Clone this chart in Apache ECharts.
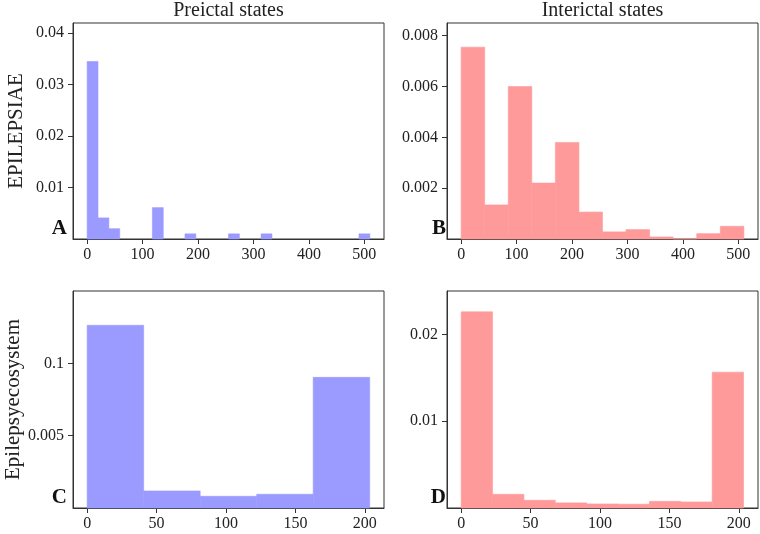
<!DOCTYPE html>
<html>
<head>
<meta charset="utf-8">
<script src="https://cdn.jsdelivr.net/npm/echarts@6/dist/echarts.min.js"></script>
<style>
html,body{margin:0;padding:0;background:#fff;}
#c{width:760px;height:534px;}
</style>
</head>
<body>
<div id="c"></div>
<script>
// ---- data ----
const panelTitles = ['Preictal states', 'Interictal states'];
const rowNames = ['EPILEPSIAE', 'Epilepsyecosystem'];
const panelLetters = ['A', 'B', 'C', 'D'];

// Panel A (EPILEPSIAE, preictal): bin lower/upper edges and density
const aLo = [0, 19.6, 39.2, 117.7, 176.5, 255.0, 313.8, 490.4];
const aHi = [19.6, 39.2, 58.8, 137.3, 196.1, 274.6, 333.4, 510.0];
const aVal = [0.0345, 0.0041, 0.0020, 0.0061, 0.0010, 0.0010, 0.0010, 0.0010];

// Panel B (EPILEPSIAE, interictal)
const bLo = [0, 42.5, 85, 127.5, 170, 212.5, 255, 297.5, 340, 382.5, 425, 467.5];
const bHi = [42.5, 85, 127.5, 170, 212.5, 255, 297.5, 340, 382.5, 425, 467.5, 510];
const bVal = [0.00755, 0.00134, 0.0060, 0.0022, 0.0038, 0.00106, 0.00028, 0.00037, 0.00008, 0, 0.00021, 0.0005];

// Panel C (Epilepsyecosystem, preictal)
const cLo = [0, 40.7, 81.4, 122.1, 162.8];
const cHi = [40.7, 81.4, 122.1, 162.8, 203.5];
const cVal = [0.1263, 0.0118, 0.0081, 0.0095, 0.0903];

// Panel D (Epilepsyecosystem, interictal)
const dLo = [0, 22.6, 45.2, 67.8, 90.4, 113, 135.6, 158.2, 180.8];
const dHi = [22.6, 45.2, 67.8, 90.4, 113, 135.6, 158.2, 180.8, 203.4];
const dVal = [0.0226, 0.00158, 0.00089, 0.00059, 0.00047, 0.00044, 0.00077, 0.0007, 0.01565];

// tick values and labels
const xTicksTop = [0, 100, 200, 300, 400, 500];
const xTicksBottom = [0, 50, 100, 150, 200];
const yTicksA = [0.01, 0.02, 0.03, 0.04];
const yLabelsA = ['0.01', '0.02', '0.03', '0.04'];
const yTicksB = [0.002, 0.004, 0.006, 0.008];
const yLabelsB = ['0.002', '0.004', '0.006', '0.008'];
const yTicksC = [0.05, 0.1];
const yLabelsC = ['0.005', '0.1'];
const yTicksD = [0.01, 0.02];
const yLabelsD = ['0.01', '0.02'];

// ---- chart ----
const FONT = '"Liberation Serif", "DejaVu Serif", serif';
const AX = '#333';
const BLUE = '#9a9aff';
const RED = '#ff9a9a';

const grids = [
  {left: 73, top: 23, width: 311, height: 216},
  {left: 447, top: 23, width: 311, height: 216},
  {left: 73, top: 291, width: 311, height: 217},
  {left: 447, top: 291, width: 311, height: 217}
].map(g => Object.assign({show: true, borderColor: AX, borderWidth: 1, backgroundColor: 'transparent', containLabel: false}, g));

function mkX(i, min, max, ticks) {
  return {
    type: 'value', gridIndex: i, min: min, max: max,
    splitLine: {show: false},
    axisLine: {show: true, onZero: false, lineStyle: {color: AX, width: 1}},
    axisTick: {show: true, length: 5, lineStyle: {color: AX}, customValues: ticks},
    axisLabel: {show: true, customValues: ticks, fontFamily: FONT, fontSize: 16, color: '#222', margin: 8}
  };
}
function mkY(i, max, ticks, labels, name) {
  return {
    type: 'value', gridIndex: i, min: 0, max: max,
    splitLine: {show: false},
    axisLine: {show: true, onZero: false, lineStyle: {color: AX, width: 1}},
    axisTick: {show: true, length: 5, lineStyle: {color: AX}, customValues: ticks},
    axisLabel: {
      show: true, customValues: ticks, fontFamily: FONT, fontSize: 16, color: '#222', margin: 9,
      formatter: function (v) {
        for (let k = 0; k < ticks.length; k++) {
          if (Math.abs(ticks[k] - v) < 1e-9) return labels[k];
        }
        return '';
      }
    },
    name: name || '',
    nameLocation: 'middle',
    nameGap: 46,
    nameRotate: 90,
    nameTextStyle: {fontFamily: FONT, fontSize: 21, color: '#222'}
  };
}

function toData(lo, hi, val) {
  return lo.map((l, k) => [l, hi[k], val[k]]);
}
function mkSeries(i, lo, hi, val, color) {
  return {
    type: 'custom', xAxisIndex: i, yAxisIndex: i,
    data: toData(lo, hi, val),
    encode: {x: [0, 1], y: 2},
    renderItem: function (params, api) {
      const p0 = api.coord([api.value(0), api.value(2)]);
      const p1 = api.coord([api.value(1), 0]);
      return {
        type: 'rect',
        shape: {x: p0[0], y: p0[1], width: p1[0] - p0[0], height: p1[1] - p0[1]},
        style: {fill: color, stroke: color, lineWidth: 0.6}
      };
    },
    silent: true
  };
}

const letterPos = [[67, 239], [446, 239], [67, 508], [446, 508]];
const graphics = [
  {type: 'text', x: 228.5, y: 11, style: {text: panelTitles[0], font: '20px ' + FONT, fill: '#222', align: 'center', verticalAlign: 'middle'}},
  {type: 'text', x: 602.5, y: 11, style: {text: panelTitles[1], font: '20px ' + FONT, fill: '#222', align: 'center', verticalAlign: 'middle'}}
].concat(panelLetters.map((L, k) => ({
  type: 'text', x: letterPos[k][0], y: letterPos[k][1],
  style: {text: L, font: 'bold 21px ' + FONT, fill: '#111', align: 'right', verticalAlign: 'bottom'}
})));

const option = {
  animation: false,
  backgroundColor: '#fff',
  grid: grids,
  xAxis: [
    mkX(0, -25.5, 535.5, xTicksTop),
    mkX(1, -25.5, 535.5, xTicksTop),
    mkX(2, -10.2, 213.8, xTicksBottom),
    mkX(3, -10.2, 213.8, xTicksBottom)
  ],
  yAxis: [
    mkY(0, 0.042, yTicksA, yLabelsA, rowNames[0]),
    mkY(1, 0.0085, yTicksB, yLabelsB),
    mkY(2, 0.15, yTicksC, yLabelsC, rowNames[1]),
    mkY(3, 0.025, yTicksD, yLabelsD)
  ],
  series: [
    mkSeries(0, aLo, aHi, aVal, BLUE),
    mkSeries(1, bLo, bHi, bVal, RED),
    mkSeries(2, cLo, cHi, cVal, BLUE),
    mkSeries(3, dLo, dHi, dVal, RED)
  ],
  graphic: graphics
};

const chart = echarts.init(document.getElementById('c'), null, {renderer: 'canvas'});
chart.setOption(option);
</script>
</body>
</html>
